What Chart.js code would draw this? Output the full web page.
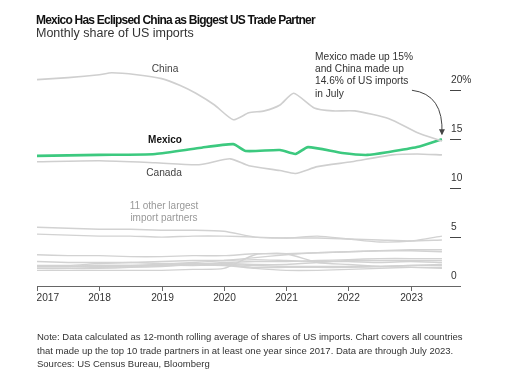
<!DOCTYPE html>
<html>
<head>
<meta charset="utf-8">
<script src="https://cdn.jsdelivr.net/npm/chart.js@4"></script>
<style>
  html, body { margin: 0; padding: 0; background: #fff; }
  body { width: 512px; height: 375px; position: relative; overflow: hidden;
         font-family: "Liberation Sans", Arial, sans-serif; color: #222; }
  #wrap { position: absolute; left: 0; top: 0; width: 512px; height: 375px; }
  .txt { position: absolute; white-space: nowrap; }
  #title { left: 36px; top: 13px; font-size: 12px; font-weight: bold; color: #111; letter-spacing: -0.78px; }
  #sub { left: 36px; top: 26px; font-size: 12.5px; color: #333; }
  #note { left: 37px; top: 330px; font-size: 9.5px; line-height: 13.5px; color: #333; }
  #annot { left: 315px; top: 51px; font-size: 10.2px; line-height: 12.2px; color: #333; }
  .lbl { font-size: 10.2px; color: #444; transform: translate(-50%, -50%); text-align: center; }
  #lblMexico { font-weight: bold; color: #111; font-size: 10px; }
  #lblOther { color: #999; line-height: 11.5px; font-size: 10px; }
</style>
</head>
<body>
<div id="wrap"><canvas id="chart" width="512" height="375"></canvas></div>
<div class="txt" id="title">Mexico Has Eclipsed China as Biggest US Trade Partner</div>
<div class="txt" id="sub">Monthly share of US imports</div>
<div class="txt" id="annot">Mexico made up 15%<br>and China made up<br>14.6% of US imports<br>in July</div>
<div class="txt lbl" style="left:165px;top:68px">China</div>
<div class="txt lbl" id="lblMexico" style="left:165px;top:139px">Mexico</div>
<div class="txt lbl" style="left:164px;top:172px">Canada</div>
<div class="txt lbl" id="lblOther" style="left:164px;top:211px">11 other largest<br>import partners</div>
<div class="txt" id="note">Note: Data calculated as 12-month rolling average of shares of US imports. Chart covers all countries<br>that made up the top 10 trade partners in at least one year since 2017. Data are through July 2023.<br>Sources: US Census Bureau, Bloomberg</div>
<script>
// share of US imports, %, dates as decimal years
const chinaDates  = [2017.0, 2017.5, 2018.0, 2018.2, 2018.6, 2019.0, 2019.3, 2019.55, 2019.85, 2020.15, 2020.4, 2020.65, 2020.9, 2021.12, 2021.45, 2021.75, 2022.1, 2022.65, 2023.1, 2023.5];
const chinaValues = [21.1, 21.3, 21.6, 21.8, 21.6, 21.2, 20.5, 19.7, 18.5, 17.0, 17.7, 17.9, 18.5, 19.7, 18.2, 17.9, 17.9, 17.1, 15.7, 14.8];

const mexicoDates  = [2017.0, 2018.0, 2018.9, 2019.6, 2020.15, 2020.35, 2020.9, 2021.15, 2021.35, 2021.9, 2022.3, 2022.65, 2023.1, 2023.5];
const mexicoValues = [13.3, 13.4, 13.5, 14.1, 14.5, 13.8, 13.9, 13.5, 14.2, 13.6, 13.4, 13.7, 14.2, 15.0];

const canadaDates  = [2017.0, 2018.0, 2018.9, 2019.6, 2020.1, 2020.4, 2020.9, 2021.15, 2021.5, 2022.05, 2022.7, 2023.1, 2023.5];
const canadaValues = [12.7, 12.8, 12.6, 12.4, 13.0, 12.3, 11.8, 11.5, 12.2, 12.7, 13.4, 13.5, 13.4];

// the 11 other partners, read every half year
const otherDates = [2017, 2017.5, 2018, 2018.5, 2019, 2019.5, 2020, 2020.5, 2021, 2021.5, 2022, 2022.5, 2023, 2023.5];
const other1  = [6.0, 5.9, 5.8, 5.8, 5.7, 5.7, 5.6, 5.0, 4.9, 5.1, 4.8, 4.5, 4.6, 5.1];
const other2  = [5.3, 5.2, 5.1, 5.1, 5.0, 5.1, 5.1, 5.0, 4.9, 4.9, 4.8, 4.7, 4.6, 4.7];
const other3  = [3.2, 3.1, 3.1, 3.0, 3.0, 3.1, 3.1, 3.3, 3.3, 3.4, 3.5, 3.6, 3.7, 3.7];
const other4  = [1.8, 1.8, 1.9, 2.0, 2.2, 2.4, 2.6, 2.9, 3.2, 3.4, 3.5, 3.6, 3.6, 3.5];
const other5  = [1.6, 1.6, 1.6, 1.6, 1.6, 1.7, 1.8, 3.2, 3.3, 2.4, 2.2, 2.0, 1.9, 1.8];
const other6  = [1.8, 1.8, 1.8, 1.9, 2.0, 2.2, 2.4, 2.5, 2.5, 2.6, 2.7, 2.8, 2.8, 2.8];
const other7  = [2.0, 2.0, 2.1, 2.1, 2.2, 2.2, 2.3, 2.2, 2.2, 2.4, 2.6, 2.6, 2.6, 2.6];
const other8  = [2.1, 2.1, 2.3, 2.4, 2.5, 2.6, 2.6, 2.7, 2.6, 2.5, 2.5, 2.4, 2.5, 2.4];
const other9  = [2.5, 2.4, 2.4, 2.4, 2.3, 2.3, 2.2, 1.9, 1.9, 1.9, 1.9, 2.0, 2.1, 2.2];
const other10 = [2.0, 2.0, 2.1, 2.1, 2.1, 2.2, 2.2, 2.1, 2.0, 2.0, 2.0, 2.0, 2.1, 2.1];
const other11 = [2.0, 2.0, 2.0, 2.0, 2.1, 2.1, 2.1, 1.8, 1.6, 1.6, 1.7, 1.8, 1.9, 1.9];
const others = [other1, other2, other3, other4, other5, other6, other7, other8, other9, other10, other11];

const yearTicks = [2017, 2018, 2019, 2020, 2021, 2022, 2023];
const yTicks = [0, 5, 10, 15, 20];
const yTickLabels = ['0', '5', '10', '15', '20%'];

function pts(dates, vals) {
  return dates.map((d, i) => ({ x: d, y: vals[i] }));
}

function line(data, color, width) {
  return { data: data, borderColor: color, borderWidth: width, pointRadius: 0, tension: 0.2, fill: false };
}

const datasets = [];
others.forEach(o => datasets.push(line(pts(otherDates, o), '#d2d2d2', 1.4)));
datasets.push(line(pts(canadaDates, canadaValues), '#cfcfcf', 1.6));
datasets.push(line(pts(chinaDates, chinaValues), '#cfcfcf', 1.6));
datasets.push(line(pts(mexicoDates, mexicoValues), '#3cc97f', 2.6));

// axes drawn by hand, positions come from the chart scales
const axesPlugin = {
  id: 'axesPlugin',
  afterDraw(chart) {
    const ctx = chart.ctx;
    const x = chart.scales.x, y = chart.scales.y;
    const area = chart.chartArea;
    const y0 = y.getPixelForValue(0);
    ctx.save();
    ctx.strokeStyle = '#666';
    ctx.lineWidth = 1;
    ctx.beginPath();
    ctx.moveTo(area.left, Math.round(y0) + 0.5);
    ctx.lineTo(area.right, Math.round(y0) + 0.5);
    ctx.stroke();

    ctx.font = '10.2px "Liberation Sans", Arial, sans-serif';
    ctx.fillStyle = '#333';
    ctx.textBaseline = 'middle';
    yearTicks.forEach((yr, i) => {
      const px = Math.round(x.getPixelForValue(yr)) + 0.5;
      ctx.beginPath();
      ctx.moveTo(px, y0);
      ctx.lineTo(px, y0 + 5);
      ctx.stroke();
      ctx.textAlign = i === 0 ? 'left' : 'center';
      ctx.fillText(String(yr), i === 0 ? px - 1 : px, y0 + 12);
    });

    ctx.textAlign = 'left';
    ctx.strokeStyle = '#444';
    yTicks.forEach((v, i) => {
      const py = Math.round(y.getPixelForValue(v)) + 0.5;
      if (v !== 0) {
        ctx.beginPath();
        ctx.moveTo(area.right - 11, py);
        ctx.lineTo(area.right, py);
        ctx.stroke();
      }
      ctx.fillText(yTickLabels[i], area.right - 10, py - 10);
    });

    // annotation arrow to the last Mexico point
    const ex = x.getPixelForValue(mexicoDates[mexicoDates.length - 1]);
    const ey = y.getPixelForValue(mexicoValues[mexicoValues.length - 1]) - 5;
    const sx = ex - 30, sy = ey - 44;
    ctx.beginPath();
    ctx.moveTo(sx, sy);
    ctx.quadraticCurveTo(ex + 2, sy + 4, ex, ey);
    ctx.stroke();
    ctx.fillStyle = '#444';
    ctx.beginPath();
    ctx.moveTo(ex, ey + 1);
    ctx.lineTo(ex - 3, ey - 5);
    ctx.lineTo(ex + 3, ey - 5);
    ctx.closePath();
    ctx.fill();
    ctx.restore();
  }
};

new Chart(document.getElementById('chart'), {
  type: 'line',
  data: { datasets: datasets },
  options: {
    responsive: false,
    animation: false,
    layout: { padding: { left: 37, right: 51, top: 61, bottom: 89 } },
    plugins: { legend: { display: false }, tooltip: { enabled: false } },
    scales: {
      x: { type: 'linear', min: 2017, max: 2023.806, display: false },
      y: { min: 0, max: 23, display: false }
    }
  },
  plugins: [axesPlugin]
});
</script>
</body>
</html>
